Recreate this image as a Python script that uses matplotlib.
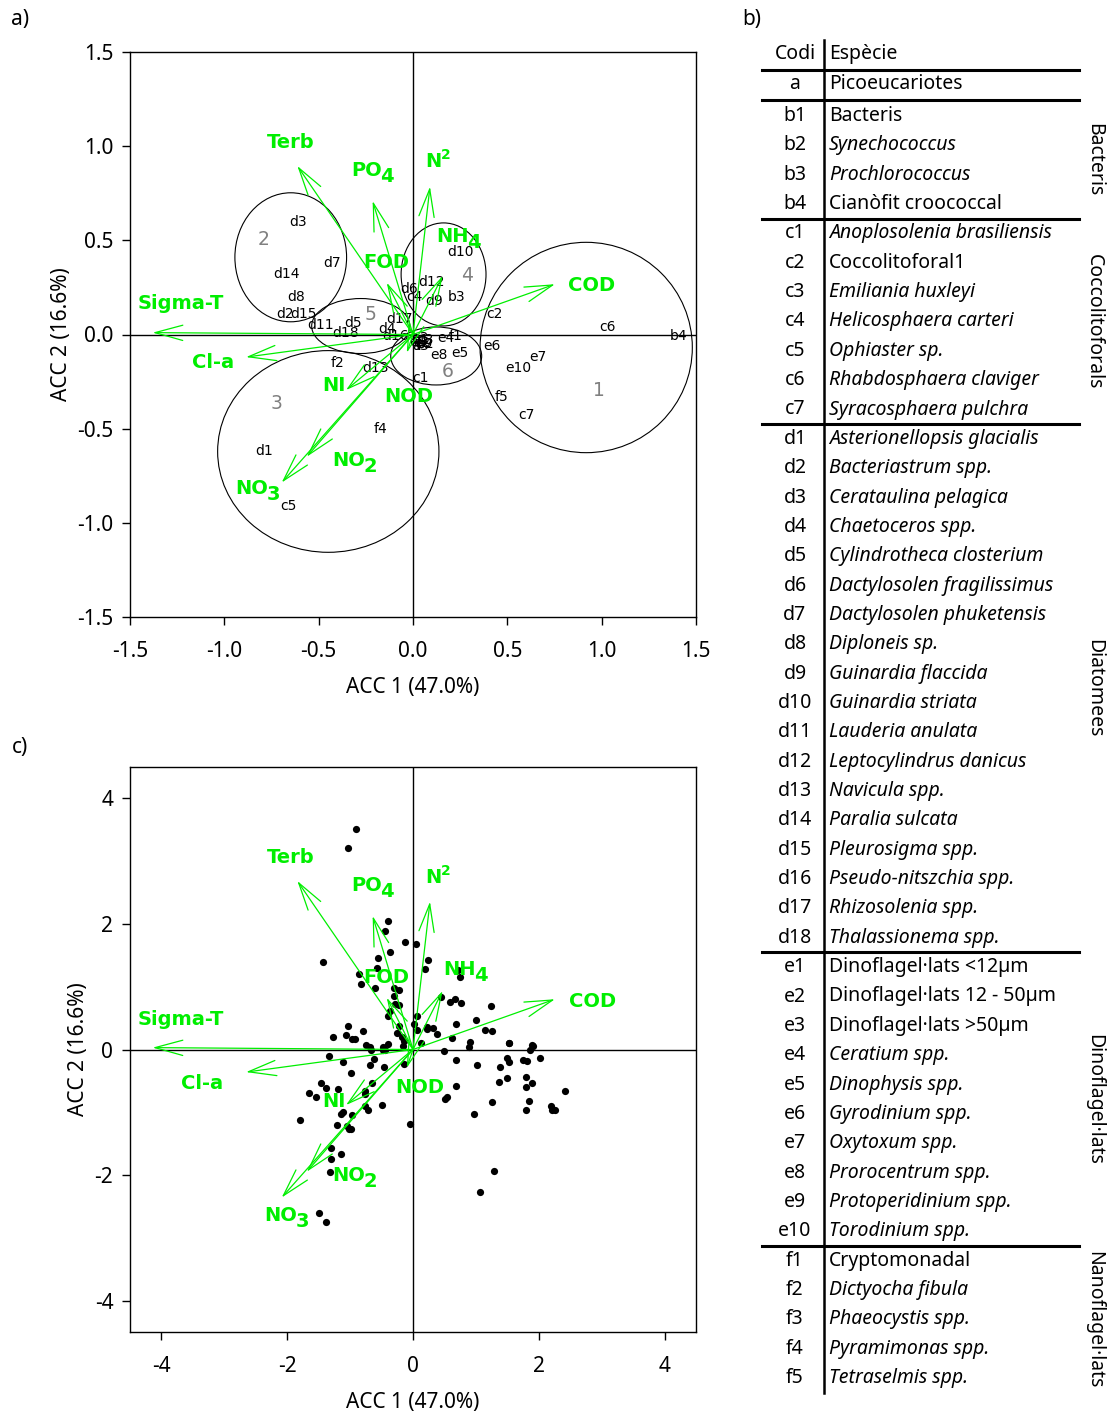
import matplotlib
matplotlib.use('Agg')
import matplotlib.pyplot as plt
from matplotlib.patches import Ellipse

# ---------------- data ----------------
# environmental vectors (panel a units; panel c uses biplot scale)
env_names = ['Sigma-T', 'Cl-a', 'Terb', 'PO4', 'N2', 'FOD', 'NH4', 'COD', 'NI', 'NOD', 'NO2', 'NO3']
env_main = ['Sigma-T', 'Cl-a', 'Terb', 'PO', 'N', 'FOD', 'NH', 'COD', 'NI', 'NOD', 'NO', 'NO']
env_sub = ['', '', '', '4', '', '', '4', '', '', '', '2', '3']
env_sup = ['', '', '', '', '2', '', '', '', '', '', '', '']
env_x = [-1.38, -0.885, -0.613, -0.214, 0.090, -0.139, 0.157, 0.752, -0.355, -0.033, -0.563, -0.696]
env_y = [0.01, -0.12, 0.895, 0.709, 0.785, 0.275, 0.311, 0.267, -0.295, -0.097, -0.649, -0.786]
# label (main part) positions panel a
env_lx_a = [-1.229, -1.060, -0.647, -0.244, 0.110, -0.143, 0.212, 0.949, -0.419, -0.021, -0.339, -0.853]
env_ly_a = [0.162, -0.151, 1.017, 0.873, 0.916, 0.380, 0.522, 0.258, -0.273, -0.327, -0.667, -0.816]
# label (main part) positions panel c
env_lx_c = [-3.69, -3.35, -1.94, -0.74, 0.33, -0.43, 0.74, 2.85, -1.26, 0.11, -1.02, -2.10]
env_ly_c = [0.48, -0.54, 3.06, 2.61, 2.74, 1.15, 1.27, 0.76, -0.83, -0.61, -2.01, -2.65]
biplot_scale_c = 3.0

# species scores (panel a)
sp_code = ['d3', 'd7', 'd14', 'd8', 'd2', 'd15', 'd11', 'd5', 'd18', 'd4', 'd17', 'd16',
           'd6', 'c4', 'd12', 'd9', 'b3', 'd10', 'c2', 'c6', 'b4', 'e6', 'e7', 'e10', 'f5', 'c7',
           'e8', 'e5', 'c1', 'f2', 'd13', 'f4', 'd1', 'c5',
           'c3', 'e4', 'f1', 'e1', 'e2', 'e3', 'e9', 'b1', 'b2', 'a', 'f3']
sp_x = [-0.61, -0.43, -0.67, -0.62, -0.68, -0.58, -0.49, -0.32, -0.36, -0.14, -0.07, -0.09,
        -0.02, 0.005, 0.10, 0.11, 0.23, 0.25, 0.43, 1.03, 1.41, 0.42, 0.66, 0.56, 0.47, 0.60,
        0.14, 0.25, 0.04, -0.40, -0.20, -0.17, -0.79, -0.66,
        0.064, 0.175, 0.228, 0.026, 0.048, 0.037, 0.058, 0.042, 0.069, 0.016, 0.053]
sp_y = [0.60, 0.38, 0.32, 0.20, 0.11, 0.11, 0.05, 0.06, 0.01, 0.03, 0.08, -0.01,
        0.24, 0.20, 0.28, 0.18, 0.20, 0.44, 0.11, 0.04, -0.01, -0.06, -0.12, -0.18, -0.33, -0.43,
        -0.11, -0.10, -0.23, -0.15, -0.18, -0.50, -0.62, -0.91,
        -0.029, -0.019, -0.008, -0.040, -0.045, -0.019, -0.050, -0.029, -0.050, -0.061, -0.061]

# clusters (ellipses) panel a
cl_id = ['1', '2', '3', '4', '5', '6']
cl_cx = [0.918, -0.648, -0.449, 0.162, -0.277, 0.123]
cl_cy = [-0.069, 0.410, -0.621, 0.319, 0.045, -0.114]
cl_w = [1.125, 0.592, 1.173, 0.450, 0.520, 0.482]
cl_h = [1.117, 0.685, 1.071, 0.547, 0.292, 0.308]
cl_lx = [0.986, -0.790, -0.726, 0.286, -0.223, 0.185]
cl_ly = [-0.300, 0.502, -0.369, 0.311, 0.104, -0.199]

# sample scores panel c
samp_x = [-0.91, -1.04, -0.40, -0.44, -0.13, 0.04, -1.43, -0.37, -0.55, 0.24, 0.19, -0.58, -0.86,
          -0.82, -0.60, -0.31, -0.23, -0.31, -0.29, -0.23, -0.37, -0.40, 0.07, 0.02, -0.23, -1.04,
          -0.79, -1.06, -1.27, -0.97, -0.93, -0.26, -0.18, -0.16, 0.07, 0.22, 0.32, 0.22, 0.38,
          0.13, -0.74, -0.69, -0.67, -0.47, -0.45, -0.48, -0.40, -1.33, -1.11, -0.62, -0.69, -0.46,
          -0.15, -0.99, 0.72, 0.74, 0.45, 0.67, 0.59, 0.76, 1.24, 1.00, 0.68, 1.14, 1.25, 0.62,
          0.90, 0.89, 1.52, 1.53, 1.89, 1.91, 1.86, 0.50, 0.69, 1.02, 1.49, 1.53, 1.75, 1.82, 2.02,
          1.38, 1.50, 1.79, 1.37, 1.90, 1.79, 0.68, -1.46, -1.38, -0.65, -1.19, -1.66, -1.55, -0.76,
          -0.77, 2.42, 0.54, 0.51, 1.25, 1.84, 2.19, 2.21, 2.26, 1.79, -0.50, -0.77, -0.72, -1.11,
          -1.15, -0.97, 0.97, -1.80, -0.05, -1.21, -1.05, -1.01, -0.99, -1.30, -1.15, -1.31, -1.32,
          1.29, 1.07, -1.49, -1.38, -0.15]
samp_y = [3.51, 3.21, 2.04, 1.88, 1.71, 1.68, 1.40, 1.56, 1.46, 1.43, 1.29, 1.30, 1.20,
          1.05, 0.98, 0.98, 0.95, 0.86, 0.73, 0.71, 0.61, 0.53, 0.54, 0.41, 0.37, 0.37,
          0.29, 0.23, 0.20, 0.16, 0.16, 0.27, 0.20, 0.05, 0.31, 0.32, 0.35, 0.36, 0.25,
          0.10, 0.07, 0.04, 0.00, 0.04, 0.00, -0.01, 0.08, -0.11, -0.20, -0.15, -0.24, -0.28,
          -0.23, -0.37, 1.27, 1.16, 0.84, 0.81, 0.75, 0.74, 0.70, 0.47, 0.41, 0.31, 0.30, 0.19,
          0.12, 0.04, 0.11, 0.10, 0.07, 0.05, 0.00, -0.03, -0.16, -0.24, -0.13, -0.20, -0.17, -0.19, -0.14,
          -0.28, -0.45, -0.44, -0.51, -0.54, -0.59, -0.58, -0.54, -0.62, -0.53, -0.63, -0.69, -0.75, -0.66,
          -0.71, -0.66, -0.76, -0.79, -0.84, -0.82, -0.90, -0.96, -0.97, -0.96, -0.89, -0.90, -0.97, -0.99,
          -1.02, -1.04, -1.02, -1.12, -1.19, -1.21, -1.22, -1.26, -1.26, -1.57, -1.67, -1.74, -1.95,
          -1.93, -2.27, -2.61, -2.74, 0.14]

# table b)
tab_codes = ['b1', 'b2', 'b3', 'b4',
             'c1', 'c2', 'c3', 'c4', 'c5', 'c6', 'c7',
             'd1', 'd2', 'd3', 'd4', 'd5', 'd6', 'd7', 'd8', 'd9', 'd10', 'd11', 'd12', 'd13', 'd14',
             'd15', 'd16', 'd17', 'd18',
             'e1', 'e2', 'e3', 'e4', 'e5', 'e6', 'e7', 'e8', 'e9', 'e10',
             'f1', 'f2', 'f3', 'f4', 'f5']
tab_species = ['Bacteris', 'Synechococcus', 'Prochlorococcus', 'Cianòfit croococcal',
               'Anoplosolenia brasiliensis', 'Coccolitoforal1', 'Emiliania huxleyi', 'Helicosphaera carteri',
               'Ophiaster sp.', 'Rhabdosphaera claviger', 'Syracosphaera pulchra',
               'Asterionellopsis glacialis', 'Bacteriastrum spp.', 'Cerataulina pelagica', 'Chaetoceros spp.',
               'Cylindrotheca closterium', 'Dactylosolen fragilissimus', 'Dactylosolen phuketensis',
               'Diploneis sp.', 'Guinardia flaccida', 'Guinardia striata', 'Lauderia anulata',
               'Leptocylindrus danicus', 'Navicula spp.', 'Paralia sulcata', 'Pleurosigma spp.',
               'Pseudo-nitszchia spp.', 'Rhizosolenia spp.', 'Thalassionema spp.',
               'Dinoflagel·lats <12µm', 'Dinoflagel·lats 12 - 50µm', 'Dinoflagel·lats >50µm',
               'Ceratium spp.', 'Dinophysis spp.', 'Gyrodinium spp.', 'Oxytoxum spp.', 'Prorocentrum spp.',
               'Protoperidinium spp.', 'Torodinium spp.',
               'Cryptomonadal', 'Dictyocha fibula', 'Phaeocystis spp.', 'Pyramimonas spp.', 'Tetraselmis spp.']
tab_italic = [False, True, True, False,
              True, False, True, True, True, True, True,
              True, True, True, True, True, True, True, True, True, True, True, True, True, True,
              True, True, True, True,
              False, False, False, True, True, True, True, True, True, True,
              False, True, True, True, True]
group_names = ['Bacteris', 'Coccolitoforals', 'Diatomees', 'Dinoflagel·lats', 'Nanoflagel·lats']
group_sizes = [4, 7, 18, 10, 5]

# ---------------- style ----------------
GREEN = '#00ee00'
TICKFONT = 'Noto Sans'

W, H = 1110, 1421
fig = plt.figure(figsize=(W / 100, H / 100), dpi=100)


def style_axes(ax, lim, ticks, labels):
    ax.set_xlim(-lim, lim)
    ax.set_ylim(-lim, lim)
    ax.set_xticks(ticks)
    ax.set_yticks(ticks)
    ax.set_xticklabels(labels, fontfamily=TICKFONT)
    ax.set_yticklabels(labels, fontfamily=TICKFONT)
    ax.tick_params(direction='out', length=6, width=1, labelsize=15, top=False, right=False)
    ax.tick_params(axis='x', pad=11)
    ax.tick_params(axis='y', pad=6)
    for s in ax.spines.values():
        s.set_linewidth(1)
    ax.axhline(0, color='black', lw=1, zorder=1)
    ax.axvline(0, color='black', lw=1, zorder=1)
    ax.set_xlabel('ACC 1 (47.0%)', fontsize=15, fontfamily=TICKFONT, labelpad=11)
    ax.set_ylabel('ACC 2 (16.6%)', fontsize=15, fontfamily=TICKFONT, labelpad=4)


def draw_arrows(ax, scale, lx, ly):
    for x, y in zip(env_x, env_y):
        ax.annotate('', xy=(x * scale, y * scale), xytext=(0, 0),
                    arrowprops=dict(arrowstyle='->,head_length=2.0,head_width=0.55', color=GREEN,
                                    lw=0.9, shrinkA=0, shrinkB=0, mutation_scale=10), zorder=3)
    for m, sb, sp, x, y in zip(env_main, env_sub, env_sup, lx, ly):
        t = ax.text(x, y, m, color=GREEN, fontsize=14, fontweight='bold', ha='center', va='center',
                    fontfamily='DejaVu Sans', zorder=4)
        if sb:
            ax.annotate(sb, xy=(1.0, 0.0), xycoords=t, xytext=(-1.5, 2.5), textcoords='offset points',
                        color=GREEN, fontsize=14, fontweight='bold', ha='left', va='center',
                        fontfamily='DejaVu Sans', zorder=4)
        if sp:
            ax.annotate(sp, xy=(1.0, 1.0), xycoords=t, xytext=(-1.0, -2.0), textcoords='offset points',
                        color=GREEN, fontsize=10, fontweight='bold', ha='left', va='center',
                        fontfamily='DejaVu Sans', zorder=4)


# panel a
ax_a = fig.add_axes([130 / W, 1 - 617 / H, 566 / W, 565 / H])
ticks_a = [-1.5, -1.0, -0.5, 0.0, 0.5, 1.0, 1.5]
style_axes(ax_a, 1.5, ticks_a, [f'{v:.1f}' for v in ticks_a])
for cx, cy, w, h in zip(cl_cx, cl_cy, cl_w, cl_h):
    ax_a.add_patch(Ellipse((cx, cy), w, h, fill=False, edgecolor='black', lw=0.8, zorder=2))
for t, x, y in zip(cl_id, cl_lx, cl_ly):
    ax_a.text(x, y, t, color='#808080', fontsize=13.5, ha='center', va='center', fontfamily='DejaVu Sans')
for t, x, y in zip(sp_code, sp_x, sp_y):
    ax_a.text(x, y, t, color='black', fontsize=10, ha='center', va='center', fontfamily='DejaVu Sans',
              zorder=2)
draw_arrows(ax_a, 1.0, env_lx_a, env_ly_a)

# panel c
ax_c = fig.add_axes([130 / W, 1 - 1332 / H, 566 / W, 565 / H])
ticks_c = [-4, -2, 0, 2, 4]
style_axes(ax_c, 4.5, ticks_c, [f'{v:d}' for v in ticks_c])
ax_c.scatter(samp_x, samp_y, s=27, color='black', zorder=2, linewidths=0)
draw_arrows(ax_c, biplot_scale_c, env_lx_c, env_ly_c)

# panel letters
for lab, px, py in [('a)', 20, 20), ('b)', 752, 20), ('c)', 20, 748)]:
    fig.text(px / W, 1 - py / H, lab, fontsize=15, fontfamily=TICKFONT, ha='center', va='center')

# table b)
ax_t = fig.add_axes([0, 0, 1, 1], zorder=-1)
ax_t.set_xlim(0, W)
ax_t.set_ylim(H, 0)
ax_t.axis('off')
TFS = 14
x_code, x_sp, x_vline, x_l0, x_l1, x_grp = 795, 829, 824, 762, 1079, 1094
row0, drow = 116, 29.35
ax_t.text(x_code, 54, 'Codi', fontsize=TFS, fontfamily=TICKFONT, ha='center', va='center')
ax_t.text(x_sp, 54, 'Espècie', fontsize=TFS, fontfamily=TICKFONT, ha='left', va='center')
ax_t.text(x_code, 84, 'a', fontsize=TFS, fontfamily=TICKFONT, ha='center', va='center')
ax_t.text(x_sp, 84, 'Picoeucariotes', fontsize=TFS, fontfamily=TICKFONT, ha='left', va='center')
ax_t.plot([x_l0, x_l1], [70, 70], color='black', lw=2.2)
ax_t.plot([x_l0, x_l1], [100, 100], color='black', lw=2.2)
ax_t.plot([x_vline, x_vline], [40, 1393], color='black', lw=1.8)
for i, (c, s, it) in enumerate(zip(tab_codes, tab_species, tab_italic)):
    y = row0 + i * drow
    ax_t.text(x_code, y, c, fontsize=TFS, fontfamily=TICKFONT, ha='center', va='center')
    ax_t.text(x_sp, y, s, fontsize=TFS, fontfamily=TICKFONT, ha='left', va='center',
              fontstyle='italic' if it else 'normal')
start = 0
for g, n in zip(group_names, group_sizes):
    y_first = row0 + start * drow
    y_last = row0 + (start + n - 1) * drow
    ax_t.text(x_grp, (y_first + y_last) / 2, g, fontsize=TFS, fontfamily=TICKFONT, rotation=-90,
              ha='center', va='center')
    start += n
    if start < len(tab_codes):
        yl = y_last + drow / 2
        ax_t.plot([x_l0, x_l1], [yl, yl], color='black', lw=2.2)

fig.savefig('out.png', dpi=100)
